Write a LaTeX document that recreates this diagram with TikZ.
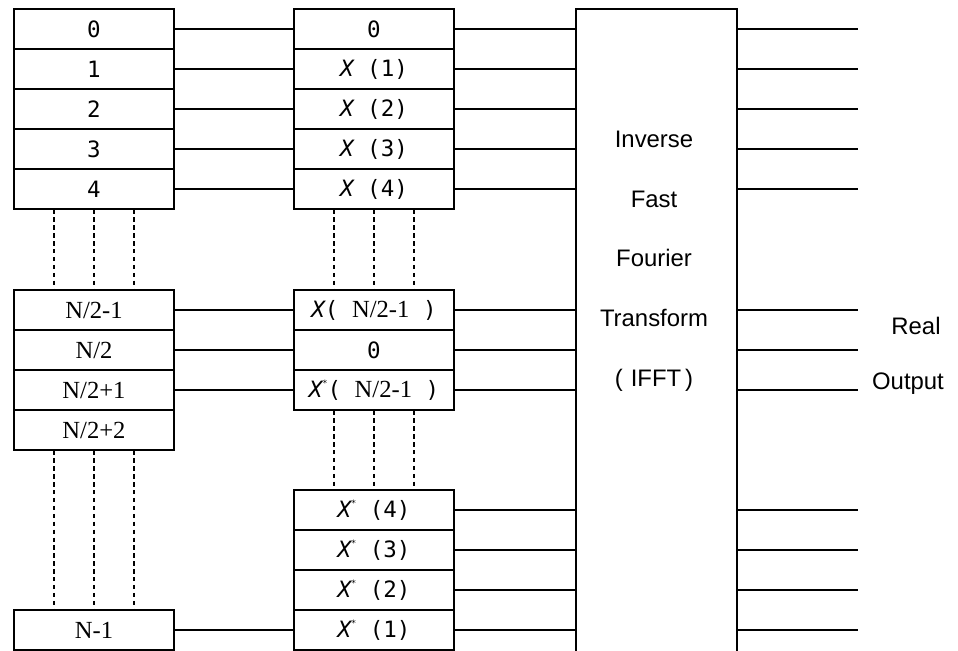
\documentclass[tikz,border=0pt]{standalone}
\usepackage{fontspec}
\setmainfont{Liberation Serif}
\setsansfont{Liberation Sans}
\setmonofont{DejaVu Sans Mono}

%% X, X* for the cell labels
\newcommand{\Xs}{{\itshape X}}
\newcommand{\Xcj}{{\itshape X}\raisebox{0.5em}{\tiny*}}

\begin{document}
\begin{tikzpicture}[
    x=0.02cm, y=-0.02cm,
    cell/.style={draw, line width=0.6pt, minimum width=3.2cm, minimum height=0.8cm,
                 inner sep=0pt, font=\fontsize{12.8}{15}\selectfont\ttfamily},
    ncell/.style={cell, font=\fontsize{14}{16}\selectfont\rmfamily},
    fftbox/.style={draw, line width=0.9pt, minimum width=3.22cm, minimum height=13.2cm, inner sep=0pt},
    wire/.style={line width=0.8pt},
    dashline/.style={line width=0.7pt, dash pattern=on 2.5pt off 2pt},
    lbl/.style={font=\fontsize{13.6}{34}\selectfont\sffamily},
  ]
    %% page = 958 x 650 px
    \path[use as bounding box] (0,0) rectangle (958,650);
    \clip (0,0) rectangle (958,650);

    \def\xl{94}    % centre of input column
    \def\xm{374}   % centre of mapped column

    %% --- input column ---
    \foreach \i in {0,...,4}
      \node[cell] (l\i) at (\xl, {29+40*\i}) {\i};
    \node[ncell] (lh1) at (\xl, 310) {N/2-1};
    \node[ncell] (lh2) at (\xl, 350) {N/2};
    \node[ncell] (lh3) at (\xl, 390) {N/2+1};
    \node[ncell] (lh4) at (\xl, 430) {N/2+2};
    \node[ncell] (ln)  at (\xl, 630) {N-1};

    %% --- mapped column ---
    \node[cell] (m0) at (\xm, 29) {0};
    \foreach \i in {1,...,4}
      \node[cell] (m\i) at (\xm, {29+40*\i}) {\Xs\ (\i)};
    \node[cell] (mh1) at (\xm, 310) {\Xs(\ {\fontsize{14}{16}\selectfont\rmfamily N/2-1}\ )};
    \node[cell] (mh2) at (\xm, 350) {0};
    \node[cell] (mh3) at (\xm, 390) {\Xcj(\ {\fontsize{14}{16}\selectfont\rmfamily N/2-1}\ )};
    \foreach \i/\y in {4/510, 3/550, 2/590, 1/630}
      \node[cell] (mc\i) at (\xm, \y) {\Xcj\ (\i)};

    %% --- IFFT block ---
    \node[fftbox] (ifft) at (656.5, 339) {};
    \node[lbl, align=center] (ifftlbl) at (654, 261)
      {Inverse\\Fast\\Fourier\\Transform\\(\,\,IFFT\,)};

    %% --- dashed gaps ---
    \foreach \a/\b in {l4/lh1, lh4/ln, m4/mh1, mh3/mc4}
      \foreach \dx in {-0.8, 0, 0.8}
        \draw[dashline] ([xshift=\dx cm]\a.south) -- ([xshift=\dx cm]\b.north);

    %% --- input -> mapped ---
    \foreach \a/\b in {l0/m0, l1/m1, l2/m2, l3/m3, l4/m4, lh1/mh1, lh2/mh2, lh3/mh3, ln/mc1}
      \draw[wire] (\a.east) -- (\b.west);

    %% --- mapped -> IFFT -> output ---
    \coordinate (outend) at (858, 0);
    \foreach \m in {m0, m1, m2, m3, m4, mh1, mh2, mh3, mc4, mc3, mc2, mc1} {
      \draw[wire] (\m.east) -- (\m.east -| ifft.west);
      \draw[wire] (\m.east -| ifft.east) -- (\m.east -| outend);
    }

    %% --- output label ---
    \node[lbl] (real)   at (916, 326) {Real};
    \node[lbl] (output) at (908, 384) {Output};

  \end{tikzpicture}
\end{document}
